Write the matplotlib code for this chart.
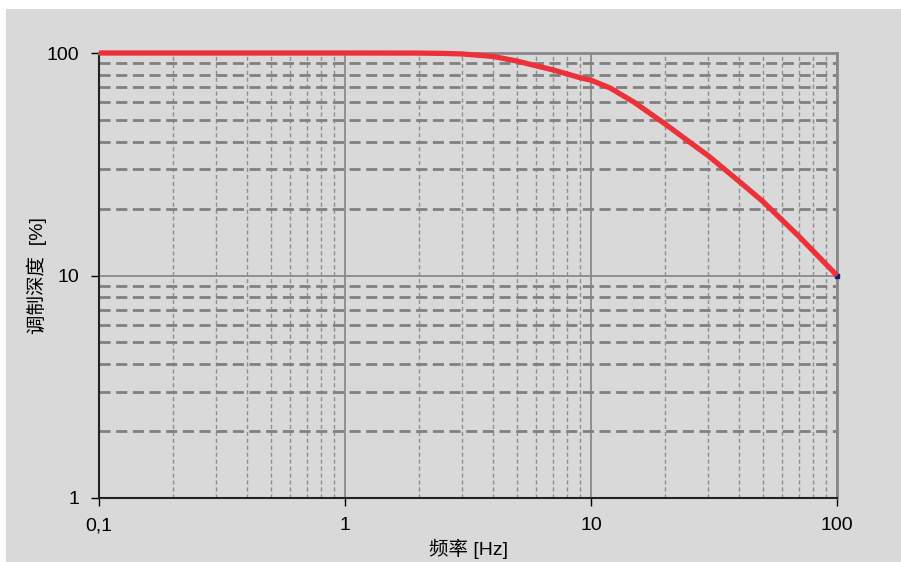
import matplotlib
matplotlib.use("Agg")
import matplotlib.pyplot as plt
from matplotlib.patches import Rectangle
from matplotlib.ticker import FixedLocator, LogLocator, NullFormatter

plt.rcParams['font.family'] = ['Liberation Sans', 'Noto Sans CJK SC', 'DejaVu Sans']

# Modulation depth vs frequency
freq = [0.1, 0.5, 1, 2, 2.5, 3, 4, 5, 6, 7, 8, 9, 10, 12, 15, 20, 25, 30, 40, 50, 70, 100]
depth = [100, 100, 100, 99.9, 99.6, 99, 96.5, 92, 87.5, 84, 80.5, 77.5, 75.5, 69.5,
         60, 48, 40, 34.5, 26.5, 21.5, 15, 10]

x_ticks = [0.1, 1, 10, 100]
x_labels = ["0,1", "1", "10", "100"]
y_ticks = [1, 10, 100]
y_labels = ["1", "10", "100"]

bg = '#d9d9d9'
fig = plt.figure(figsize=(9.01, 5.62), dpi=100, facecolor='white')
fig.patches.append(Rectangle((6 / 901, 0), 1, 1 - 9 / 562, transform=fig.transFigure,
                             facecolor=bg, edgecolor='none', zorder=-10))
ax = fig.add_axes([99 / 901, 1 - 498 / 562, (837 - 99) / 901, (498 - 53) / 562])
ax.set_facecolor(bg)
ax.set_xscale('log')
ax.set_yscale('log')
ax.set_xlim(0.1, 100)
ax.set_ylim(1, 100)

ax.xaxis.set_major_locator(FixedLocator(x_ticks))
ax.set_xticklabels(x_labels)
ax.yaxis.set_major_locator(FixedLocator(y_ticks))
ax.set_yticklabels(y_labels)
ax.xaxis.set_minor_locator(LogLocator(base=10, subs=range(2, 10)))
ax.yaxis.set_minor_locator(LogLocator(base=10, subs=range(2, 10)))
ax.xaxis.set_minor_formatter(NullFormatter())
ax.yaxis.set_minor_formatter(NullFormatter())

ax.grid(True, which='major', color='#8a8a8a', lw=1.3, ls='-')
ax.grid(True, which='minor', axis='y', color='#808080', lw=2, ls=(0, (4, 2)))
ax.grid(True, which='minor', axis='x', color='#8f8f8f', lw=1, ls=(0, (3, 2)))
ax.tick_params(which='minor', length=0)
ax.tick_params(which='major', direction='out', length=6, width=1, color='black',
               labelsize=14, pad=8)

for side in ['top', 'right']:
    ax.spines[side].set_color('#888888')
    ax.spines[side].set_linewidth(2)
for side in ['left', 'bottom']:
    ax.spines[side].set_color('#222222')
    ax.spines[side].set_linewidth(1.5)

ax.plot(freq, depth, color='#ee3038', lw=3.8, solid_capstyle='butt', zorder=4,
        clip_on=False)
ax.plot(freq[-1:], depth[-1:], 's', color='#1a1a7a', ms=3, zorder=3, clip_on=False)

ax.set_xlabel("频率 [Hz]", fontsize=14, labelpad=3)
ax.set_ylabel("调制深度  [%]", fontsize=14, labelpad=0)

fig.savefig("out.png", dpi=100, facecolor=fig.get_facecolor())
